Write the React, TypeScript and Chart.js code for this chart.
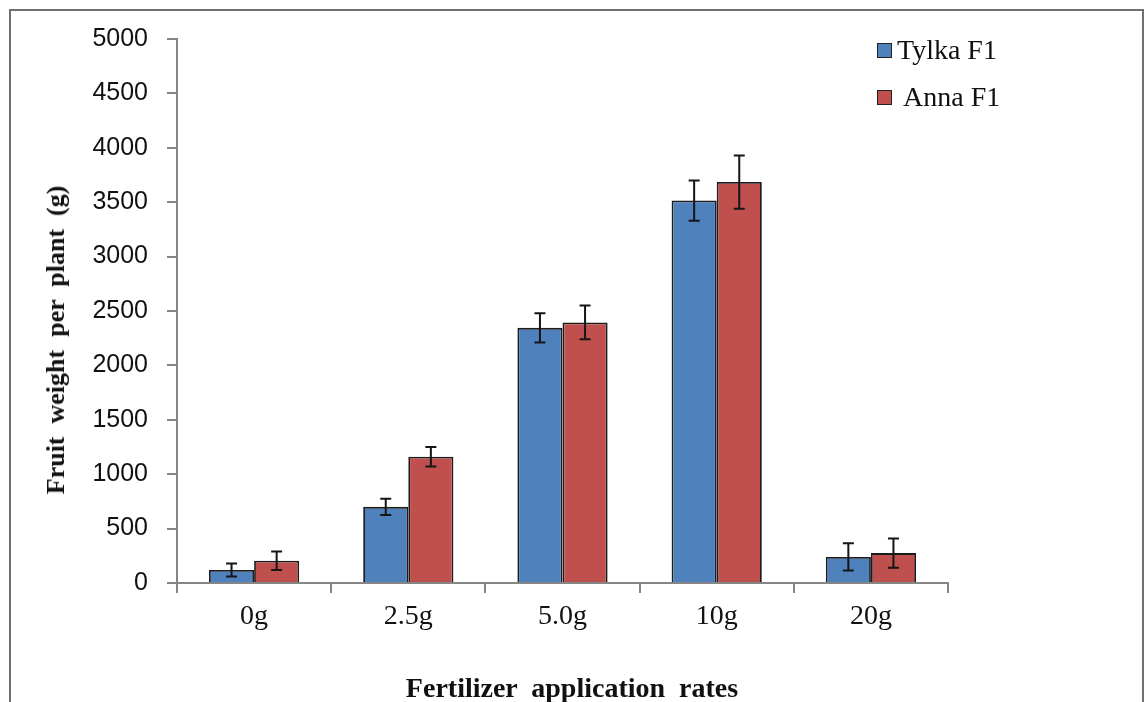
import { useEffect, useRef } from "react";
import { Chart, registerables } from "chart.js";

Chart.register(...registerables);

const categories = ["0g", "2.5g", "5.0g", "10g", "20g"];
const seriesNames = ["Tylka F1", "Anna F1"];
const tylkaValues = [120, 700, 2345, 3515, 240];
const tylkaErrors = [60, 75, 135, 185, 125];
const annaValues = [205, 1160, 2395, 3685, 275];
const annaErrors = [85, 90, 155, 245, 135];
const seriesColors = ["#4f81bd", "#c0504d"];
const yMin = 0;
const yMax = 5000;
const yStep = 500;
const xTitle = "Fertilizer  application  rates";
const yTitle = "Fruit  weight  per  plant  (g)";

const errorsByDataset = [tylkaErrors, annaErrors];

const errorBarPlugin = {
  id: "errorBars",
  afterDatasetsDraw(chart: any) {
    const { ctx } = chart;
    const yScale = chart.scales.y;
    chart.data.datasets.forEach((ds: any, di: number) => {
      const meta = chart.getDatasetMeta(di);
      const errs = errorsByDataset[di];
      meta.data.forEach((bar: any, i: number) => {
        const v = ds.data[i] as number;
        const e = errs[i];
        const x = bar.x;
        const top = yScale.getPixelForValue(v + e);
        const bot = yScale.getPixelForValue(v - e);
        ctx.save();
        ctx.strokeStyle = "#151515";
        ctx.lineWidth = 2;
        ctx.beginPath();
        ctx.moveTo(x, top);
        ctx.lineTo(x, bot);
        ctx.moveTo(x - 5.5, top);
        ctx.lineTo(x + 5.5, top);
        ctx.moveTo(x - 5.5, bot);
        ctx.lineTo(x + 5.5, bot);
        ctx.stroke();
        ctx.restore();
      });
    });
  },
};

export default function App() {
  const canvasRef = useRef<HTMLCanvasElement | null>(null);

  useEffect(() => {
    if (!canvasRef.current) return;
    const chart = new Chart(canvasRef.current, {
      type: "bar",
      data: {
        labels: categories,
        datasets: [
          {
            label: seriesNames[0],
            data: tylkaValues,
            backgroundColor: seriesColors[0],
            borderColor: "#1c1c1c",
            borderWidth: 1.8,
            categoryPercentage: 0.585,
            barPercentage: 1.0,
          },
          {
            label: seriesNames[1],
            data: annaValues,
            backgroundColor: seriesColors[1],
            borderColor: "#1c1c1c",
            borderWidth: 1.8,
            categoryPercentage: 0.585,
            barPercentage: 1.0,
          },
        ],
      },
      options: {
        responsive: false,
        animation: false,
        devicePixelRatio: 1,
        layout: { padding: { left: 0, top: 39, right: 199, bottom: 0 } },
        plugins: {
          legend: { display: false },
          tooltip: { enabled: false },
          title: { display: false },
        },
        scales: {
          x: {
            afterFit: (scale: any) => {
              scale.height = 119;
            },
            border: { color: "#868686", width: 2 },
            grid: {
              offset: true,
              drawOnChartArea: false,
              drawTicks: true,
              tickLength: 10,
              color: "#868686",
              lineWidth: 2,
            },
            ticks: {
              color: "#111",
              padding: 7,
              font: { family: "'Liberation Serif', 'Times New Roman', serif", size: 28 },
            },
          },
          y: {
            min: yMin,
            max: yMax,
            afterFit: (scale: any) => {
              scale.width = 177;
            },
            border: { color: "#868686", width: 2 },
            grid: {
              drawOnChartArea: false,
              drawTicks: true,
              tickLength: 10,
              color: "#868686",
              lineWidth: 2,
            },
            ticks: {
              stepSize: yStep,
              color: "#111",
              padding: 19,
              font: { family: "'Liberation Sans', Arial, sans-serif", size: 25 },
              callback: (value: any) => String(value),
            },
          },
        },
      },
      plugins: [errorBarPlugin],
    });
    return () => chart.destroy();
  }, []);

  const serif = "'Liberation Serif', 'Times New Roman', serif";

  return (
    <div style={{ position: "fixed", left: 0, top: 0, width: 1147, height: 702, overflow: "hidden", background: "#fff" }}>
      <div
        style={{
          position: "absolute",
          left: 9,
          top: 9,
          width: 1131,
          height: 760,
          border: "2px solid #707070",
        }}
      />
      <canvas ref={canvasRef} width={1147} height={702} style={{ position: "absolute", left: 0, top: 0 }} />
      <div
        style={{
          position: "absolute",
          left: 56,
          top: 340,
          transform: "translate(-50%, -50%) rotate(-90deg)",
          whiteSpace: "pre",
          fontFamily: serif,
          fontWeight: "bold",
          fontSize: 26,
          color: "#111",
          lineHeight: 1,
        }}
      >
        {yTitle}
      </div>
      <div
        style={{
          position: "absolute",
          left: 572,
          top: 688,
          transform: "translate(-50%, -50%)",
          whiteSpace: "pre",
          fontFamily: serif,
          fontWeight: "bold",
          fontSize: 28,
          color: "#111",
          lineHeight: 1,
        }}
      >
        {xTitle}
      </div>
      {seriesNames.map((name, i) => (
        <div
          key={name}
          style={{
            position: "absolute",
            left: 877,
            top: i === 0 ? 50 : 97,
            transform: "translateY(-50%)",
            display: "flex",
            alignItems: "center",
            fontFamily: serif,
            fontSize: 28,
            color: "#111",
            whiteSpace: "pre",
            lineHeight: 1,
          }}
        >
          <span
            style={{
              display: "inline-block",
              width: 13,
              height: 13,
              background: seriesColors[i],
              border: "1.5px solid #222",
              marginRight: i === 0 ? 5 : 11,
            }}
          />
          <span>{name}</span>
        </div>
      ))}
    </div>
  );
}
